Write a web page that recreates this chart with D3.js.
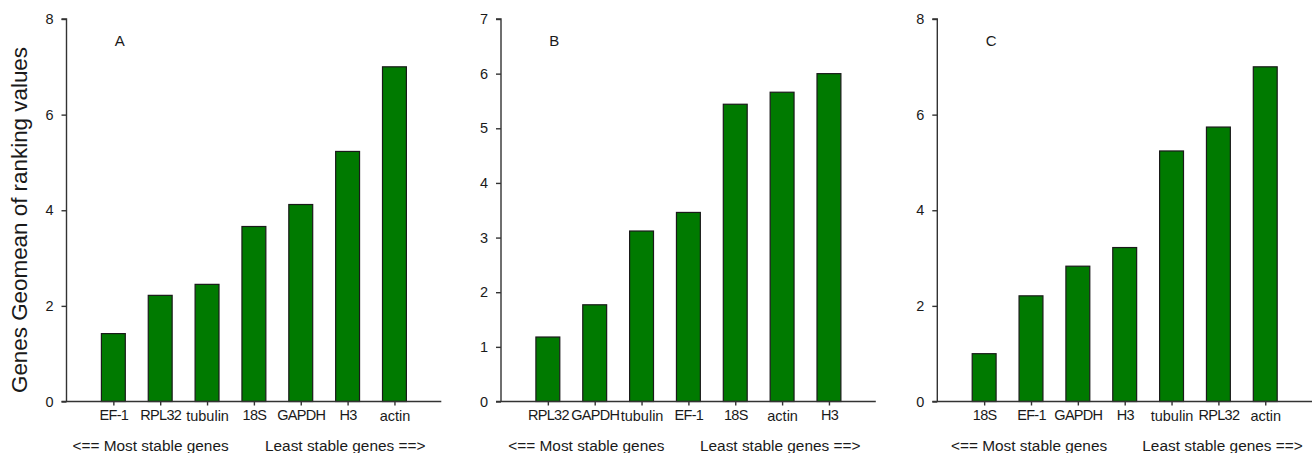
<!DOCTYPE html>
<html>
<head>
<meta charset="utf-8">
<script src="https://cdn.jsdelivr.net/npm/d3@7"></script>
<style>
  body { margin: 0; background: #fff; }
  svg { display: block; font-family: "Liberation Sans", Arial, sans-serif; }
</style>
</head>
<body>
<svg id="chart" width="1312" height="453"></svg>
<script>
// data: gene order and geomean values per panel
const genesA = ["EF-1", "RPL32", "tubulin", "18S", "GAPDH", "H3", "actin"];
const valuesA = [1.42, 2.22, 2.45, 3.66, 4.12, 5.23, 7.0];

const genesB = ["RPL32", "GAPDH", "tubulin", "EF-1", "18S", "actin", "H3"];
const valuesB = [1.18, 1.77, 3.12, 3.46, 5.44, 5.66, 6.0];

const genesC = ["18S", "EF-1", "GAPDH", "H3", "tubulin", "RPL32", "actin"];
const valuesC = [1.0, 2.21, 2.83, 3.22, 5.24, 5.74, 7.0];

const panelLetters = ["A", "B", "C"];
const yMax = [8, 7, 8];
const yTicks = [[0, 2, 4, 6, 8], [0, 1, 2, 3, 4, 5, 6, 7], [0, 2, 4, 6, 8]];
const noteLeft = "<== Most stable genes";
const noteRight = "Least stable genes ==>";
const yTitle = "Genes Geomean of ranking values";

const svg = d3.select("svg#chart");

//layout of each panel (axis origin x, and note offsets)
const panels = [
  { ox: 66.5, genes: genesA, values: valuesA, noteL: 6, noteR: 198.5 },
  { ox: 501, genes: genesB, values: valuesB, noteL: 7.3, noteR: 199 },
  { ox: 937.3, genes: genesC, values: valuesC, noteL: 13.7, noteR: 205 }
];
const plotTop = 19, plotBottom = 401.5, step = 46.85;
const axisColor = "#333";
const textColor = "#1a1a1a";

panels.forEach((p, i) => {
  const g = svg.append("g");

  const x = d3.scaleLinear().domain([0, 8]).range([p.ox, p.ox + 8 * step]);
  const y = d3.scaleLinear().domain([0, yMax[i]]).range([plotBottom, plotTop]);

  //bars
  g.selectAll("rect")
    .data(p.values)
    .join("rect")
    .attr("x", (d, k) => x(k + 1 - 0.255))
    .attr("width", x(0.51) - x(0))
    .attr("y", d => y(d))
    .attr("height", d => y(0) - y(d))
    .attr("fill", "#007a00")
    .attr("stroke", "#1a1a1a")
    .attr("stroke-width", 1.2);

  //y axis
  const yAxis = d3.axisLeft(y).tickValues(yTicks[i]).tickSize(5).tickPadding(8).tickFormat(d3.format("d"));
  const ya = g.append("g").attr("transform", `translate(${p.ox},0)`).call(yAxis);
  ya.select(".domain").attr("d", `M-5,${plotTop}H0V${plotBottom}`);

  //x axis
  const xAxis = d3.axisBottom(x)
    .tickValues(d3.range(1, 8))
    .tickSize(4)
    .tickPadding(4)
    .tickFormat((d, k) => p.genes[k]);
  const xa = g.append("g").attr("transform", `translate(0,${plotBottom})`).call(xAxis);
  xa.select(".domain").attr("d", `M${p.ox - 5},0H${x(8)}`);

  [ya, xa].forEach(a => {
    a.selectAll(".domain, .tick line").attr("stroke", axisColor).attr("stroke-width", 1.4);
    a.selectAll("text").attr("fill", textColor);
  });
  ya.selectAll("text").attr("font-size", 14.5);
  // capitals in the original are set tighter than the lowercase names
  xa.selectAll("text")
    .attr("font-size", 14.5)
    .each(function() {
      const s = d3.select(this).text();
      if (s === s.toLowerCase()) d3.select(this).attr("dy", "0.78em");
      else d3.select(this).attr("letter-spacing", -0.7);
    });

  //panel letter
  g.append("text")
    .attr("x", x(1) + 1.5)
    .attr("y", 46)
    .attr("font-size", 15)
    .attr("fill", textColor)
    .text(panelLetters[i]);

  //stability notes
  g.append("text")
    .attr("x", p.ox + p.noteL)
    .attr("y", 451)
    .attr("font-size", 15.4)
    .attr("fill", textColor)
    .text(noteLeft);
  g.append("text")
    .attr("x", p.ox + p.noteR)
    .attr("y", 451)
    .attr("font-size", 15.4)
    .attr("fill", textColor)
    .text(noteRight);
});

//y axis title
svg.append("text")
  .attr("transform", "translate(27,220) rotate(-90)")
  .attr("text-anchor", "middle")
  .attr("font-size", 22.4)
  .attr("fill", textColor)
  .text(yTitle);
</script>
</body>
</html>
